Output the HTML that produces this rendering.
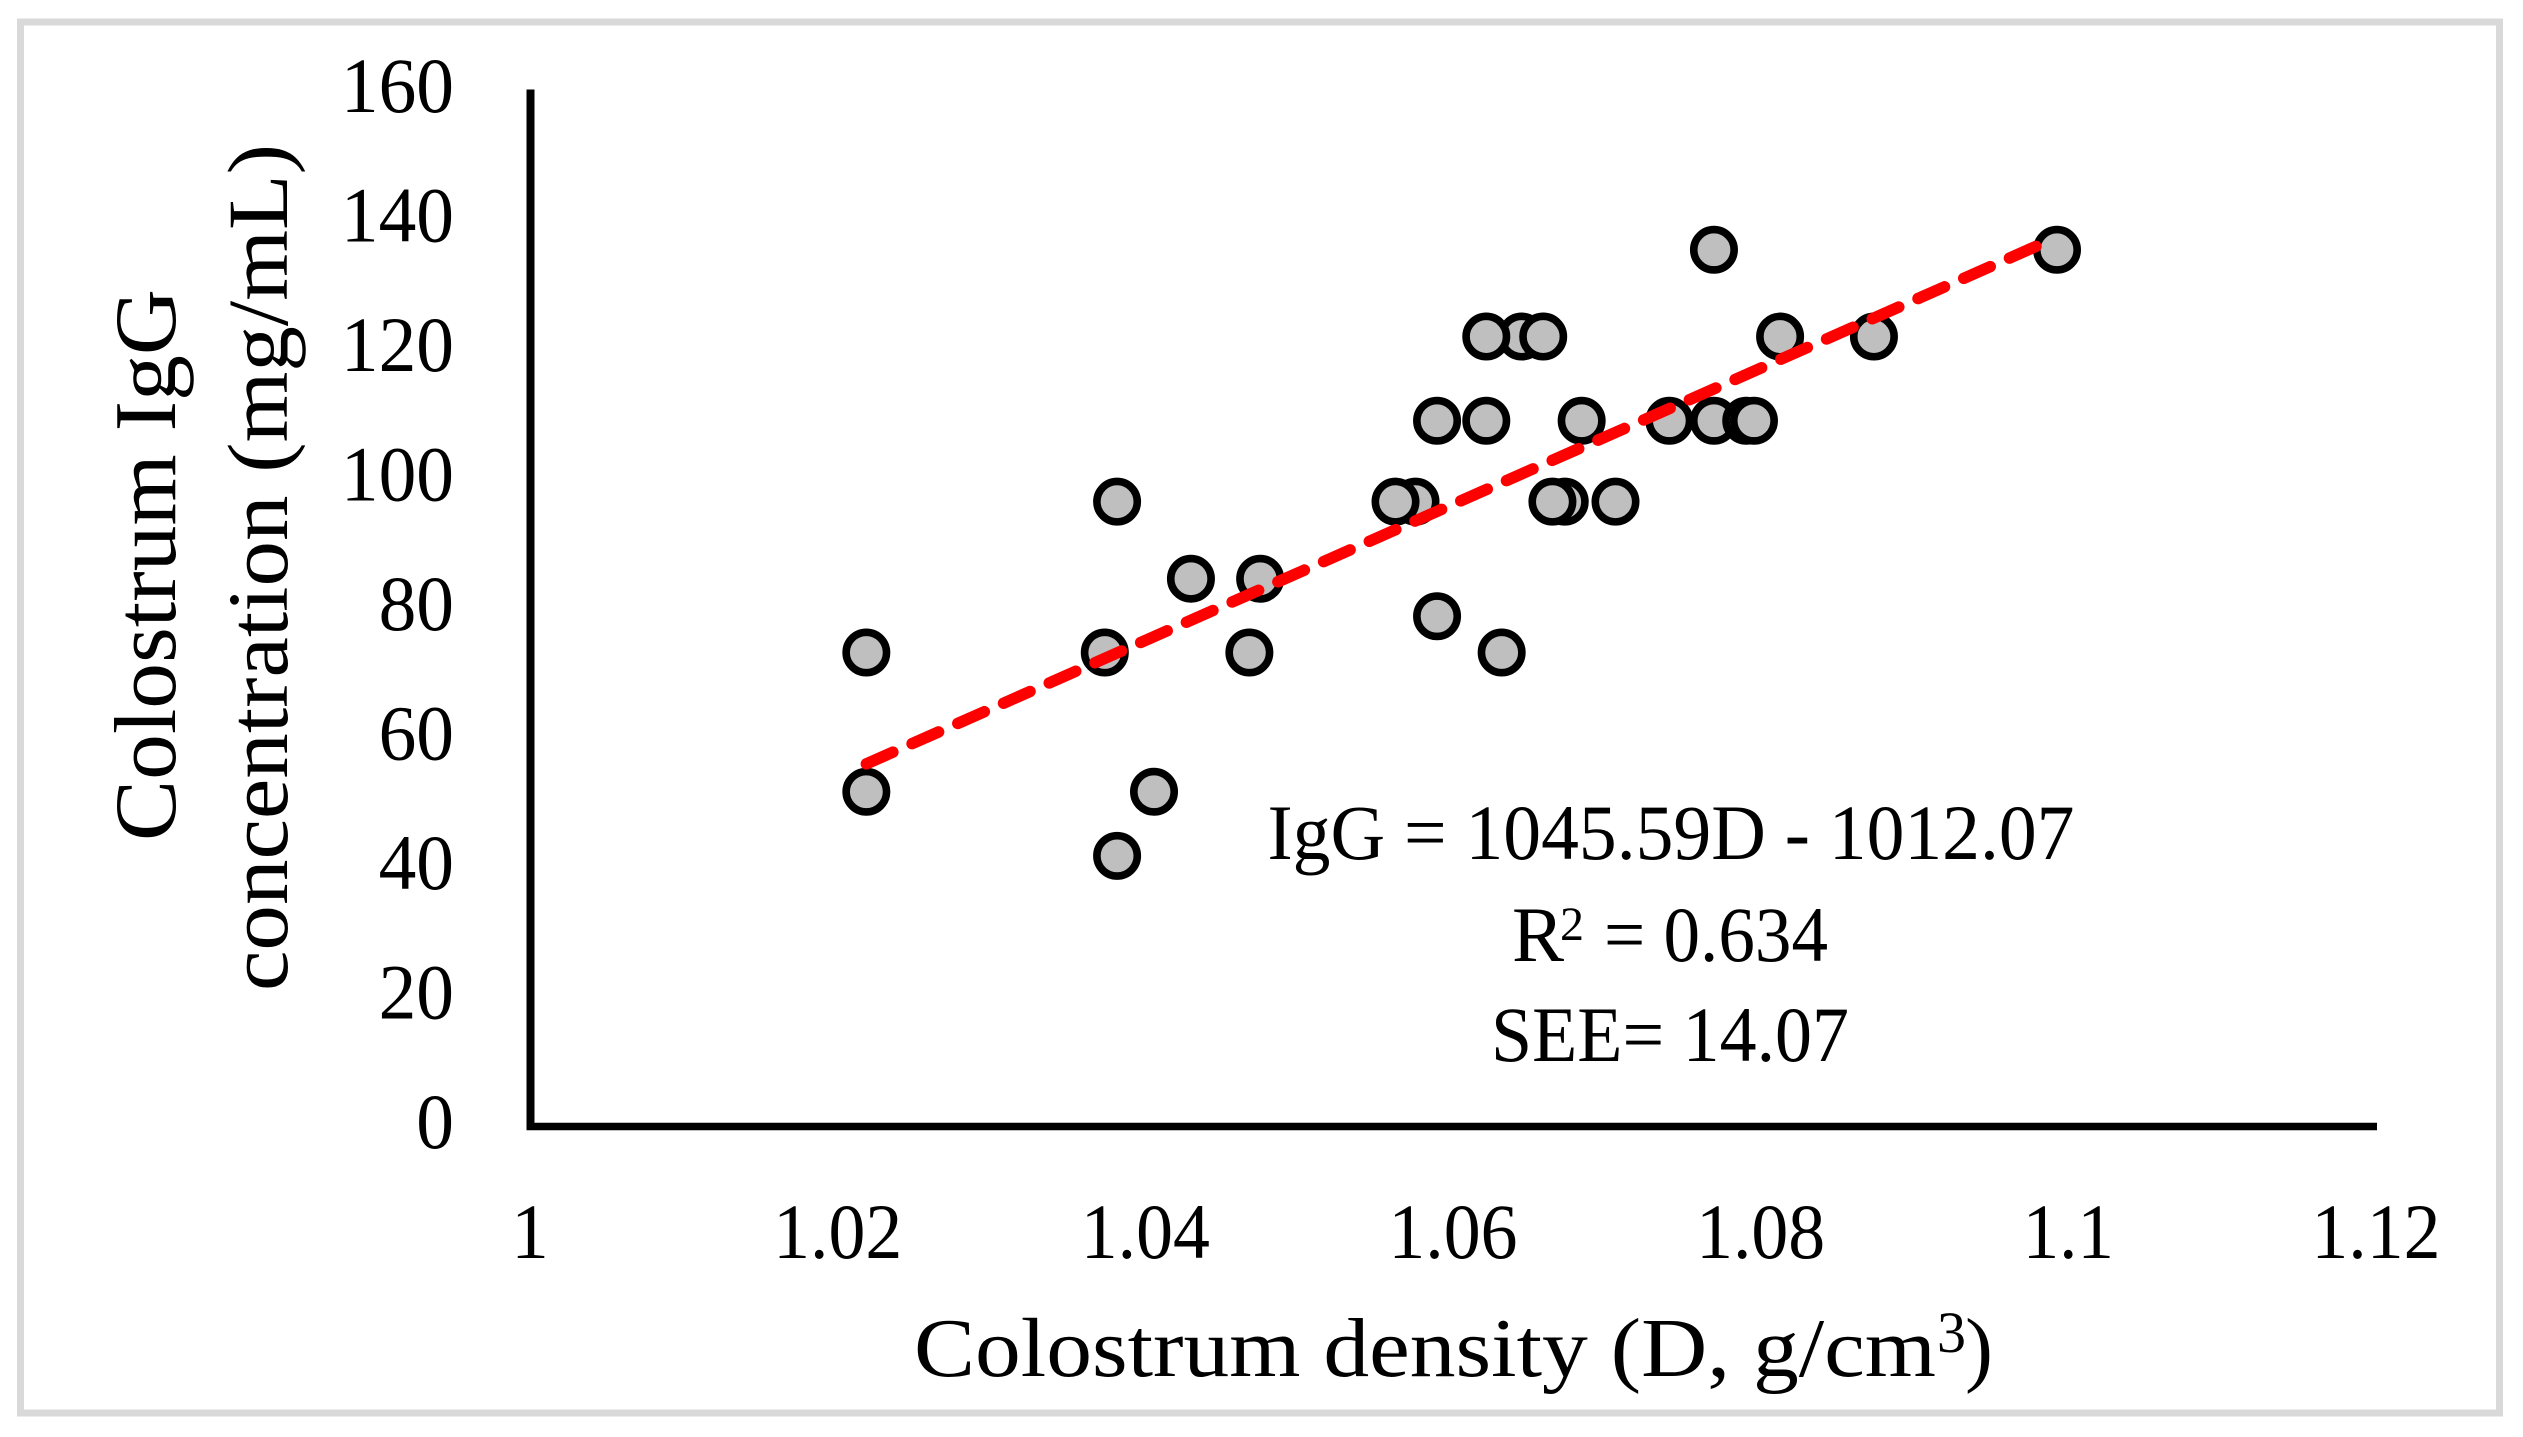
<!DOCTYPE html>
<html>
<head>
<meta charset="utf-8">
<style>
html,body{margin:0;padding:0;background:#fff;width:2523px;height:1437px;overflow:hidden}
svg{display:block}
text{font-family:"Liberation Serif",serif;fill:#000}
</style>
</head>
<body>
<svg id="chart" xmlns="http://www.w3.org/2000/svg" width="2523" height="1437" viewBox="0 0 2523 1437">
<rect x="20.5" y="22" width="2479" height="1391" fill="#fff" stroke="#d9d9d9" stroke-width="7"/>
<g id="marks"></g>
<g id="trend"></g>
<line x1="530.5" y1="89.5" x2="530.5" y2="1130" stroke="#000" stroke-width="8"/>
<line x1="526.5" y1="1126.5" x2="2377" y2="1126.5" stroke="#000" stroke-width="7.5"/>
<g id="ticks"></g>
<text transform="translate(175,841) rotate(-90)" font-size="88" textLength="552" lengthAdjust="spacingAndGlyphs">Colostrum IgG</text>
<text transform="translate(287,991) rotate(-90)" font-size="86" textLength="847" lengthAdjust="spacingAndGlyphs">concentration (mg/mL)</text>
<text y="1376" font-size="84"><tspan x="914" textLength="1022" lengthAdjust="spacingAndGlyphs">Colostrum density (D, g/cm</tspan><tspan x="1937" dy="-24" font-size="58">3</tspan><tspan x="1965" dy="24">)</tspan></text>
<text x="1267.5" y="859" font-size="78" textLength="807" lengthAdjust="spacingAndGlyphs">IgG = 1045.59D - 1012.07</text>
<text y="961" font-size="78"><tspan x="1512">R</tspan><tspan x="1560" dy="-21" font-size="48">2</tspan><tspan x="1604" dy="21" textLength="224" lengthAdjust="spacingAndGlyphs">= 0.634</tspan></text>
<text x="1491" y="1061" font-size="78" textLength="358" lengthAdjust="spacingAndGlyphs">SEE= 14.07</text>
</svg>
<script>
var xTicks = ["1", "1.02", "1.04", "1.06", "1.08", "1.1", "1.12"];
var yTicks = ["0", "20", "40", "60", "80", "100", "120", "140", "160"];
var densityValues = [1.0218, 1.0218, 1.0373, 1.0381, 1.0381, 1.0405, 1.0429, 1.0467, 1.0474, 1.0575, 1.0562, 1.0589, 1.0589, 1.0644, 1.0621, 1.0621, 1.0631, 1.0658, 1.0672, 1.0664, 1.0683, 1.0705, 1.0740, 1.0769, 1.0769, 1.0790, 1.0795, 1.0812, 1.0873, 1.0992];
var iggValues = [73.2, 51.7, 73.2, 96.5, 41.8, 51.7, 84.6, 73.2, 84.6, 96.5, 96.5, 109, 78.8, 122, 122, 109, 73.2, 122, 96.5, 96.5, 109, 96.5, 109, 135.4, 109, 109, 109, 122, 122, 135.4];
var trendX = [1.0218, 1.0979];
var trendY = [56.0, 136.0];

var svgNS = "http://www.w3.org/2000/svg";
function xScale(v) { return 531 + (v - 1) * 15383; }
function yScale(v) { return 1126.5 - v * 6.475; }
function labelWidth(s) {
  var dots = s.split(".").length - 1;
  return (s.length - dots) * 37.7 + dots * 16;
}

var marks = document.getElementById("marks");
densityValues.forEach(function (d, i) {
  var c = document.createElementNS(svgNS, "circle");
  
  
  c.setAttribute("cx", xScale(d));
  c.setAttribute("cy", yScale(iggValues[i]));
  c.setAttribute("r", 20.2);
  c.setAttribute("fill", "#bfbfbf");
  c.setAttribute("stroke", "#000");
  c.setAttribute("stroke-width", 7.6);
  marks.appendChild(c);
});

var trend = document.getElementById("trend");
var tl = document.createElementNS(svgNS, "line");


tl.setAttribute("x1", xScale(trendX[0]));
tl.setAttribute("y1", yScale(trendY[0]));
tl.setAttribute("x2", xScale(trendX[1]));
tl.setAttribute("y2", yScale(trendY[1]));
tl.setAttribute("stroke", "#ff0000");
tl.setAttribute("stroke-width", 11.5);
tl.setAttribute("stroke-linecap", "round");
tl.setAttribute("stroke-dasharray", "29 21");
trend.appendChild(tl);

var ticks = document.getElementById("ticks");
xTicks.forEach(function (s) {
  var t = document.createElementNS(svgNS, "text");
  
  
  var w = labelWidth(s);
  t.setAttribute("x", xScale(parseFloat(s)) - w / 2 - 1);
  t.setAttribute("y", 1258);
  t.setAttribute("font-size", 78);
  t.setAttribute("textLength", w);
  t.setAttribute("lengthAdjust", "spacingAndGlyphs");
  t.textContent = s;
  ticks.appendChild(t);
});
yTicks.forEach(function (s) {
  var t = document.createElementNS(svgNS, "text");
  
  
  var w = labelWidth(s);
  t.setAttribute("x", 454 - w);
  t.setAttribute("y", yScale(parseFloat(s)) + 21.5);
  t.setAttribute("font-size", 78);
  t.setAttribute("textLength", w);
  t.setAttribute("lengthAdjust", "spacingAndGlyphs");
  t.textContent = s;
  ticks.appendChild(t);
});
</script>
</body>
</html>
